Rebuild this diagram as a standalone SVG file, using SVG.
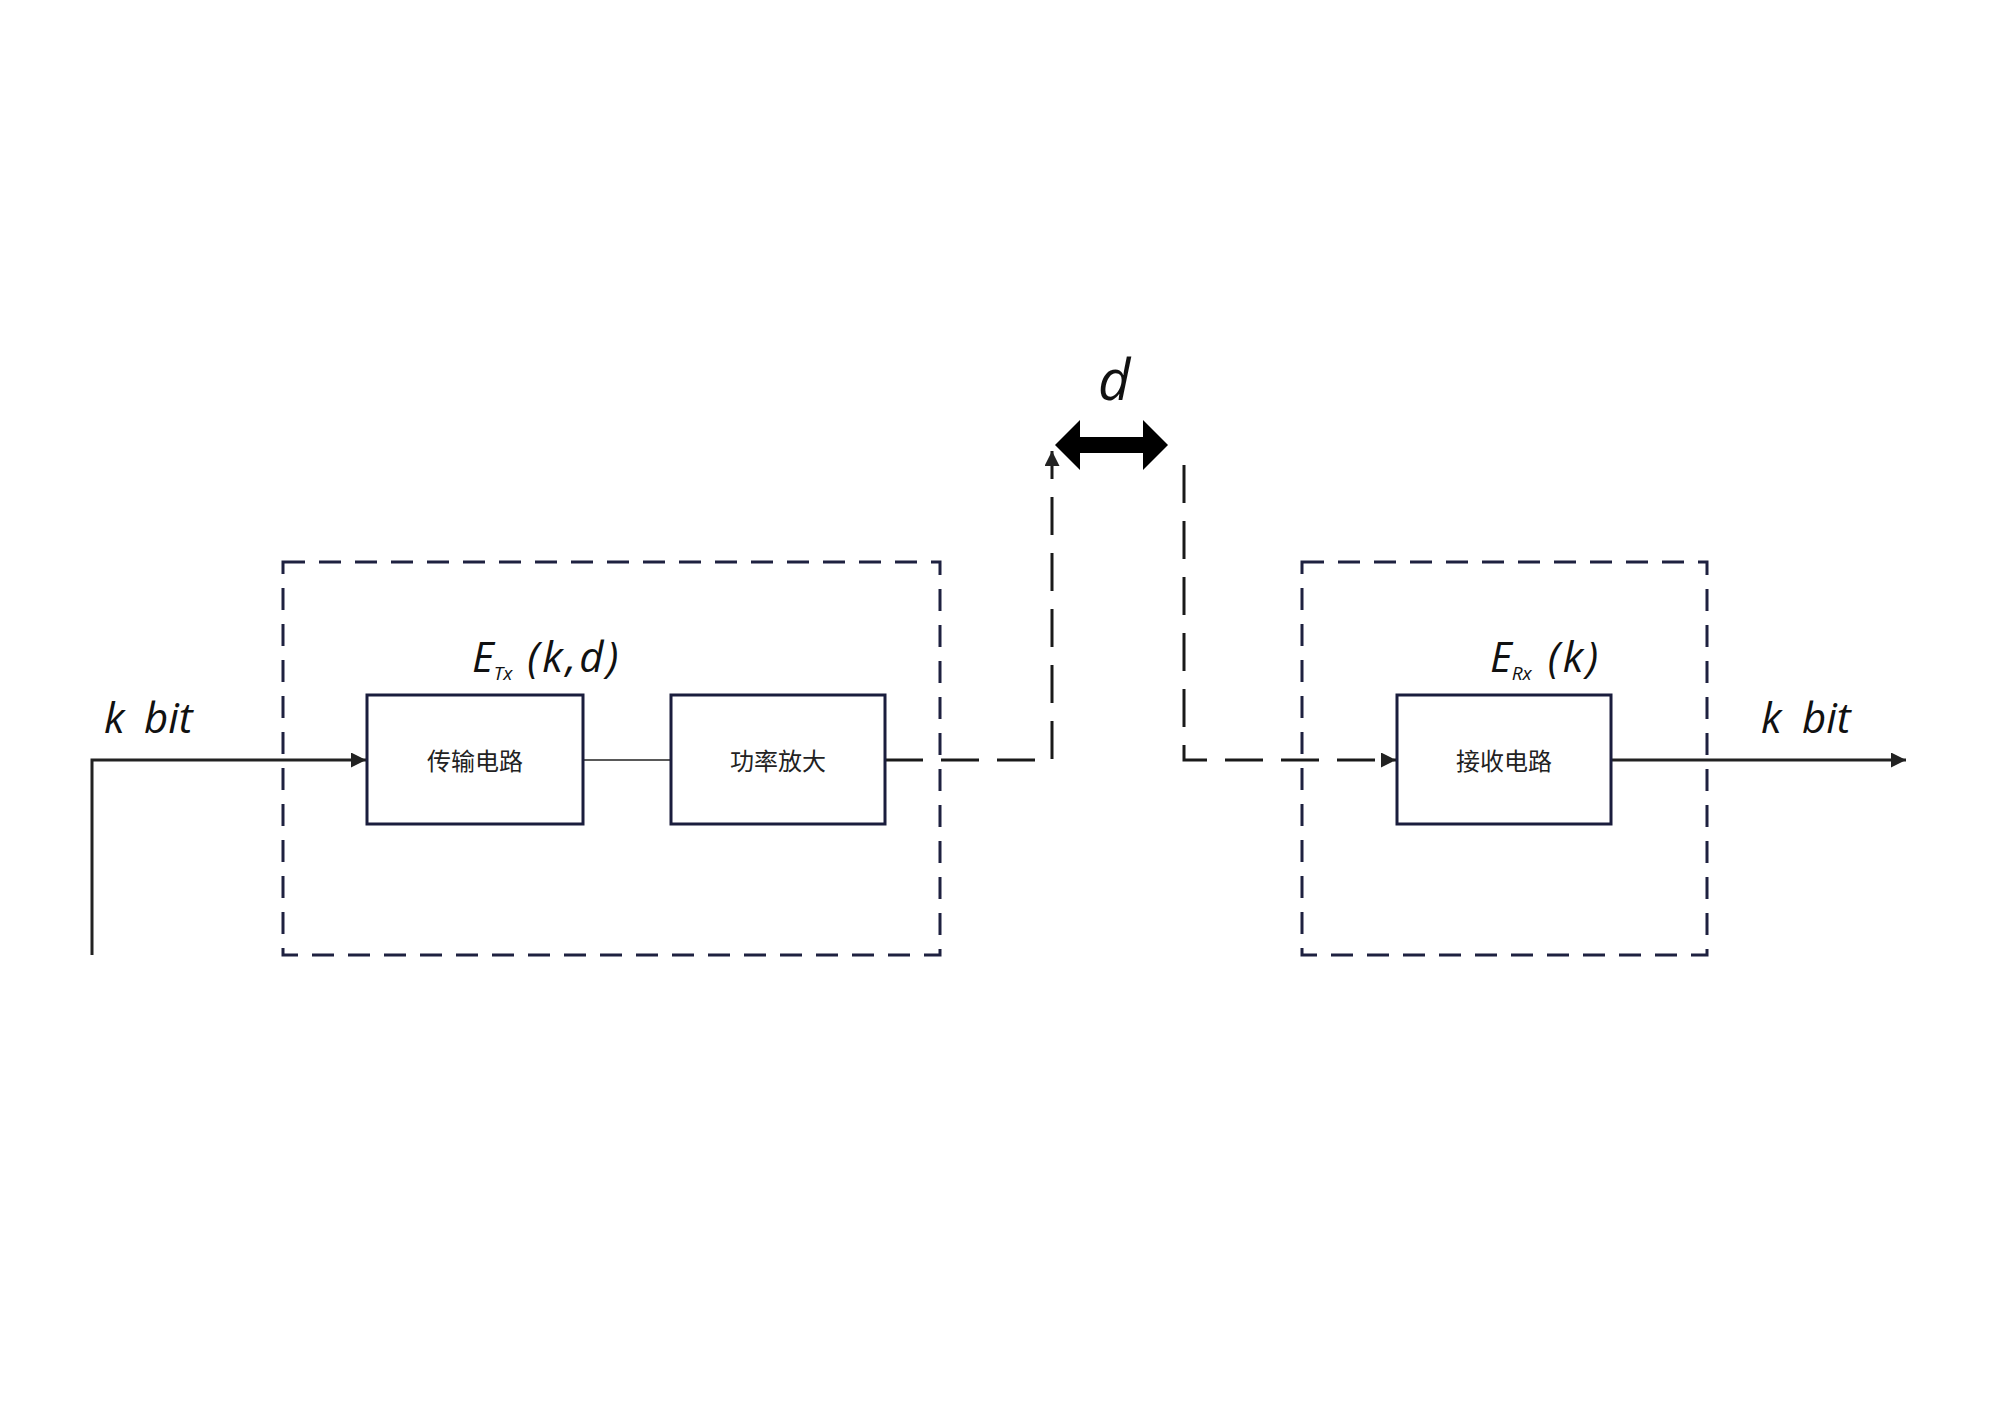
<svg xmlns="http://www.w3.org/2000/svg" width="2000" height="1414" viewBox="0 0 2000 1414">
<style>
.frame{fill:none;stroke:#1e2140;stroke-width:3;stroke-dasharray:22 14}
.box{fill:#fff;stroke:#1a1d3d;stroke-width:3}
.cn{font-family:"Noto Sans CJK SC","Noto Sans",sans-serif;font-size:24px;fill:#222;text-anchor:middle}
.it{font-family:"Open Sans","Noto Sans",sans-serif;font-style:italic;fill:#111}
.solid{fill:none;stroke:#222;stroke-width:3}
.dash{fill:none;stroke:#1a1a1a;stroke-width:3;stroke-dasharray:38 18}
</style>
<defs>
<marker id="arr" viewBox="0 0 10 10" refX="10" refY="5" markerWidth="5" markerHeight="5" orient="auto" markerUnits="strokeWidth">
<path d="M0,0 L10,5 L0,10 z" fill="#222"/>
</marker>
</defs>
<rect width="2000" height="1414" fill="#fff"/>
<g id="tx-frame"><rect class="frame" x="283" y="562" width="657" height="393"/></g>
<g id="rx-frame"><rect class="frame" x="1302" y="562" width="405" height="393"/></g>
<g id="connectors">
<path class="solid" d="M92,955 V760 H366" marker-end="url(#arr)"/>
<path d="M583,760 H671" fill="none" stroke="#222" stroke-width="1.5"/>
<path class="dash" d="M885,760 H1052 V451" marker-end="url(#arr)"/>
<path class="dash" d="M1184,465 V760 H1396" marker-end="url(#arr)"/>
<path class="solid" d="M1611,760 H1906" marker-end="url(#arr)"/>
<polygon points="1055,445 1080,420 1080,437 1143,437 1143,420 1168,445 1143,470 1143,453 1080,453 1080,470" fill="#000"/>
</g>
<g id="node-tx"><rect class="box" x="367" y="695" width="216" height="129"/><text class="cn" x="475" y="770">传输电路</text></g>
<g id="node-pa"><rect class="box" x="671" y="695" width="214" height="129"/><text class="cn" x="778" y="770">功率放大</text></g>
<g id="node-rx"><rect class="box" x="1397" y="695" width="214" height="129"/><text class="cn" x="1504" y="770">接收电路</text></g>
<g id="labels">
<text class="it" x="104" y="733" font-size="42">k</text>
<text class="it" x="144" y="733" font-size="42">bit</text>
<text class="it" x="1761" y="733" font-size="42">k</text>
<text class="it" x="1802" y="733" font-size="42">bit</text>
<text class="it" x="1098" y="400" font-size="56">d</text>
<text class="it" x="472" y="672" font-size="42">E<tspan font-size="19" dy="8">Tx</tspan><tspan dx="15" dy="-8" letter-spacing="3">(k,d)</tspan></text>
<text class="it" x="1490" y="672" font-size="42">E<tspan font-size="19" dy="8">Rx</tspan><tspan dx="16" dy="-8" letter-spacing="3">(k)</tspan></text>
</g>
</svg>
